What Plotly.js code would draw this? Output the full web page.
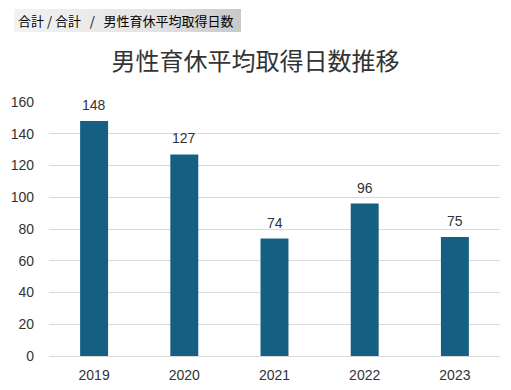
<!DOCTYPE html>
<html><head><meta charset="utf-8">
<script src="https://cdn.plot.ly/plotly-3.0.1.min.js"></script>
<style>
html,body{margin:0;padding:0;background:#fff;}
#wrap{position:relative;width:511px;height:390px;}
#chart{position:absolute;left:0;top:0;width:511px;height:390px;}
#hdr{position:absolute;left:14px;top:9px;width:227px;height:23px;box-sizing:border-box;padding-left:4px;
 background:linear-gradient(to right,#f2f2f2,#e4e4e4 60%,#c8c8c8);font-family:"Noto Sans CJK JP",sans-serif;font-size:13px;line-height:23px;color:#000;white-space:pre;z-index:2;}
</style></head>
<body><div id="wrap"><div id="chart"></div><div id="hdr">合計 / 合計   /   男性育休平均取得日数</div></div>
<script>
const categories = ["2019","2020","2021","2022","2023"];
const values = [148,127,74,96,75];
const yTicks = [0,20,40,60,80,100,120,140,160];
const title = "男性育休平均取得日数推移";

Plotly.newPlot("chart",[{
  type:"bar", x:categories, y:values,
  marker:{color:"#156082"},
  width:0.31,
  hoverinfo:"none"
}],{
  width:511, height:390,
  margin:{l:49,r:11,t:102,b:34},
  paper_bgcolor:"#fff", plot_bgcolor:"#fff",
  showlegend:false,
  title:{text:title, x:0.5, xanchor:"center", y:1-62/390, yref:"container", yanchor:"middle",
    font:{family:"Noto Sans CJK JP, sans-serif", size:24, color:"#333"}},
  annotations: categories.map((c,i)=>({x:i, y:values[i], xref:"x", yref:"y", text:String(values[i]),
    showarrow:false, yanchor:"bottom", yshift:6,
    font:{family:"Liberation Sans, Arial, sans-serif", size:14, color:"#333"}})),
  xaxis:{type:"category", range:[-0.5,4.5], tickfont:{family:"Liberation Sans, Arial, sans-serif", size:14, color:"#333"},
    showline:true, linecolor:"#d9d9d9", ticks:"", showgrid:false, ticklabelstandoff:6},
  yaxis:{range:[0,160], tickvals:yTicks, ticktext:yTicks.map(String), showgrid:true, gridcolor:"#d9d9d9",
    zeroline:false, showline:false, ticks:"", ticklabelstandoff:14,
    tickfont:{family:"Liberation Sans, Arial, sans-serif", size:14, color:"#333"}},
  bargap:0.69
},{displayModeBar:false, staticPlot:true});
</script></body></html>
